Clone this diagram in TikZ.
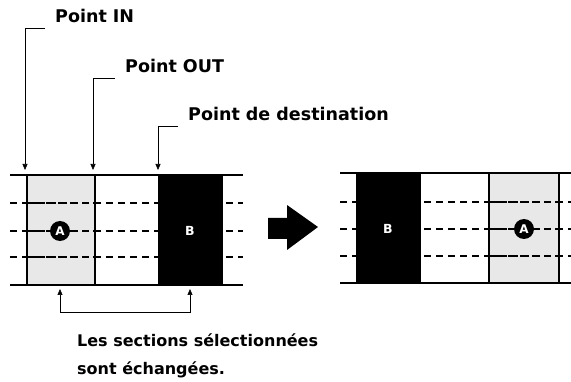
\documentclass[tikz,border=0pt]{standalone}
\usepackage{fontspec}
\setmainfont{DejaVu Sans}
\usetikzlibrary{arrows.meta}
\begin{document}
\begin{tikzpicture}[x=1pt, y=-1pt, font=\fontsize{16}{28}\selectfont\bfseries, line join=miter, >={Triangle[length=6pt,width=5pt]}]
\tikzset{
  rail/.style={line width=1.8pt},
  track/.style={line width=1.3pt, dash pattern=on 7pt off 5pt},
  trackA/.style={line width=2.3pt, dash pattern=on 7pt off 4pt},
  border/.style={line width=1.4pt},
  zoneB/.style={fill=black, draw=black, line width=1pt},
  leader/.style={line width=0.6pt, ->},
  tag/.style={circle, fill=black, inner sep=0pt, minimum size=20pt, text=white, font=\fontsize{12}{12}\selectfont\bfseries},
  btag/.style={text=white, font=\fontsize{12.5}{12}\selectfont\bfseries},
  lbl/.style={anchor=base west, inner sep=0pt, font=\fontsize{17.5}{21}\selectfont\bfseries}
}
\useasboundingbox (0,0) rectangle (571,382);
% left strip: before
\fill[black!9] (27,175) rectangle (95,285);
\foreach \y in {203,231,257} {
  \draw[track] (10,\y) -- (243,\y);
  \draw[trackA] (27,\y) -- (95,\y);
}
\fill[zoneB] (158,175) rectangle (222,285);
\draw[border] (27,175) -- (27,285) (95,175) -- (95,285) (222,175) -- (222,285);
\draw[rail] (10,175) -- (243,175) (10,285) -- (243,285);
\node[tag] (a1) at (60,231) {A};
\node[btag] (b1) at (190,231) {B};
% arrow
\fill (268,218) -- (287,218) -- (287,205) -- (318,227) -- (287,250) -- (287,239) -- (268,239) -- cycle;
% right strip: after
\fill[black!9] (489,173) rectangle (559,283);
\foreach \y in {202,229,256} {
  \draw[track] (340,\y) -- (571,\y);
  \draw[trackA] (489,\y) -- (559,\y);
}
\fill[zoneB] (356,173) rectangle (420,283);
\draw[border] (420,173) -- (420,283) (489,173) -- (489,283) (559,173) -- (559,283);
\draw[rail] (340,173) -- (571,173) (340,283) -- (571,283);
\node[tag] (a2) at (524,229) {A};
\node[btag] (b2) at (388,229) {B};
% labels
\coordinate (pin) at (25,170);
\coordinate (pout) at (93,170);
\coordinate (pdest) at (158,170);
\node[lbl] (lin) at (55,23) {Point IN};
\node[lbl] (lout) at (125,73) {Point OUT};
\node[lbl] (ldest) at (188,121) {Point de destination};
\draw[leader] ([xshift=-10pt,yshift=-5pt]lin.base west) -| (pin);
\draw[leader] ([xshift=-10pt,yshift=-5pt]lout.base west) -| (pout);
\draw[leader] ([xshift=-10pt,yshift=-5pt]ldest.base west) -| (pdest);
% swap
\coordinate (sa) at (60,289);
\coordinate (sb) at (190,289);
\draw[leader, <->] (sa) -- ++(0,23) -| (sb);
\node[anchor=base west, inner sep=0pt, align=left] (note) at (77,374) {Les sections sélectionnées\\sont échangées.};
\end{tikzpicture}
\end{document}
